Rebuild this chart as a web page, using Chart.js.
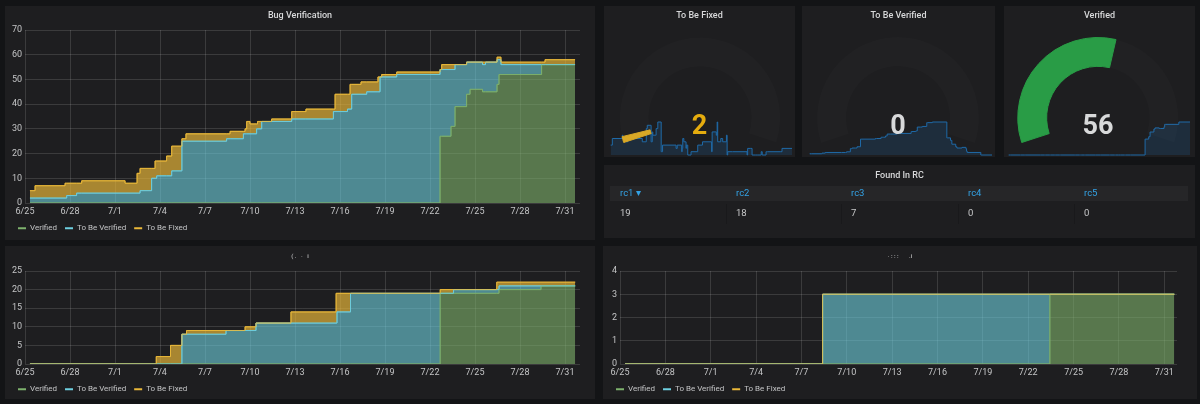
<!DOCTYPE html>
<html><head><meta charset="utf-8">
<style>
html,body{margin:0;padding:0;width:1200px;height:404px;overflow:hidden;background:#131416;font-family:Roboto,sans-serif}
.p{position:absolute;background:#1e1e20}
canvas{position:absolute;display:block}
.t{position:absolute;text-align:center;color:#d8d9da;font:500 9px Roboto,sans-serif;line-height:12px;white-space:pre}
.v{position:absolute;width:80px;text-align:center;font:700 27px Roboto,sans-serif;line-height:30px}
.c{position:absolute;font:400 9.5px Roboto,sans-serif;line-height:12px;white-space:nowrap}
</style>
<script src="https://cdn.jsdelivr.net/npm/chart.js@4/dist/chart.umd.js"></script>
</head><body>
<script>
const dateLabels=['6/25','6/28','7/1','7/4','7/7','7/10','7/13','7/16','7/19','7/22','7/25','7/28','7/31'];
const seriesNames=['Verified','To Be Verified','To Be Fixed'];

const bugDays=[0.33,0.67,2.67,2.78,3.44,3.78,6.67,7.47,7.67,8.44,8.67,8.78,9.44,9.78,10.46,10.73,13.44,13.67,14.56,14.67,14.78,15,15.44,15.5,15.78,16.44,17.78,18.73,20.56,20.67,21.5,21.67,21.78,22.4,22.78,23.53,23.67,23.78,24.78,27.67,27.78,28.4,28.67,29.44,29.67,30.5,30.7,31.47,31.6,31.73,34.44,34.67,36.67];
const bugVerified=[0,0,0,0,0,0,0,0,0,0,0,0,0,0,0,0,0,0,0,0,0,0,0,0,0,0,0,0,0,0,0,0,0,0,0,0,0,0,0,27,27,31,39,44,46,45,45,48,52,52,56,56,56];
const bugToVerify=[2,2,2,3,4,4,4,4,5,10,10,11,11,13,25,25,26,26,28,28,28,28,30,30,33,33,34,34,37,37,38,38,44,44,45,45,51,51,52,27,27,23,17,13,11,11,12,10,6,4,0,0,0];
const bugToFix=[3,5,6,5,4,5,4,8,9,4,7,6,8,10,1,3,2,3,1,2,5,4,2,3,0,1,3,4,1,7,6,10,4,5,4,6,0,1,1,0,2,2,0,0,0,1,0,1,1,1,1,2,2];

const midDays=[0.33,8.75,9.7,10.46,10.77,13.4,14.67,15.4,17.73,20.74,20.8,21.7,27.68,28.57,31.45,31.6,34.4,36.68];
const midVerified=[0,0,0,0,0,0,0,0,0,0,0,0,19,19,19,20,21,21];
const midToVerify=[0,0,0,8,8,9,9,11,11,11,14,19,0,1,1,1,0,0];
const midToFix=[0,2,5,0,1,0,1,0,3,8,5,0,1,0,2,1,1,1];

const rightDays=[0.33,13.4,28.43,36.66];
const rightVerified=[0,0,3,3];
const rightToVerify=[0,3,0,0];
const rightToFix=[0,0,0,0];

const gaugeTitles=['To Be Fixed','To Be Verified','Verified'];
const gaugeValues=[2,0,56];
const gaugeMax=100;
const rcNames=['rc1','rc2','rc3','rc4','rc5'];
const rcCounts=[19,18,7,0,0];

const lineColors=['rgba(126,178,109,.8)','rgba(110,208,224,.8)','rgba(234,184,57,.85)'];
const legendColors=['#7eb26d','#6ed0e0','#eab839'];
const fillColors=['rgba(126,178,109,.6)','rgba(110,208,224,.6)','rgba(234,184,57,.68)'];
const gaugeText=['#e5ac0e','#d8d9da','#d8d9da'];
const gaugeArc=['#d9a826','#d8d9da','#299c46'];

function el(cls,css,txt,parent){const d=document.createElement('div');d.className=cls;d.style.cssText=css;if(txt!==undefined)d.textContent=txt;(parent||document.body).appendChild(d);return d}
function canvas(l,t,w,h){const c=document.createElement('canvas');c.style.cssText=`left:${l}px;top:${t}px;width:${w}px;height:${h}px`;c.width=w;c.height=h;document.body.appendChild(c);return c}

const relayer={id:'relayer',afterDatasetsDraw(ch){
  const ctx=ch.ctx;ctx.save();
  ctx.beginPath();ctx.rect(ch.chartArea.left,ch.chartArea.top,ch.chartArea.width,ch.chartArea.height);ctx.clip();
  for(let i=0;i<3;i++)ch.getDatasetMeta(i).dataset.draw(ctx,ch.chartArea);
  ctx.restore();
}};
function legendShift(dx,top){return {id:'legendShift',afterLayout(ch){ch.legend.left+=dx;ch.legend.right+=dx;ch.legend.top=top;ch.legend.bottom=top+ch.legend.height}}}

function stackChart(box,area,days,vals,yMax,yStep,xMax,legendY){
  el('p',`left:${box.l}px;top:${box.t}px;width:${box.w}px;height:${box.h}px`);
  const extra=5;
  const c=canvas(box.l,box.t,box.w,box.h+extra);
  new Chart(c,{type:'line',
    data:{datasets:seriesNames.map((n,i)=>({label:n,
      data:days.map((d,k)=>({x:d,y:vals[i][k]})),
      borderColor:lineColors[i],backgroundColor:fillColors[i],borderWidth:1,pointRadius:0,stepped:true,
      fill:i===0?'origin':'-1'}))},
    plugins:[relayer,legendShift(5,legendY-box.t-12.8)],
    options:{responsive:false,animation:false,devicePixelRatio:1,
      layout:{padding:{left:0,top:area.t-box.t,right:box.l+box.w-area.r,bottom:0}},
      plugins:{title:{display:false},tooltip:{enabled:false},
        legend:{display:true,position:'bottom',align:'start',
          labels:{boxWidth:8,boxHeight:2,padding:8,color:'#c4c5c6',font:{family:'Roboto',size:8},
            generateLabels:ch=>seriesNames.map((n,i)=>({text:n,fillStyle:legendColors[i],strokeStyle:legendColors[i],lineWidth:0,datasetIndex:i,fontColor:'#c4c5c6'}))}}},
      scales:{
        x:{type:'linear',min:0,max:xMax,border:{display:false},
          grid:{color:'rgba(255,255,255,.13)',lineWidth:1,drawTicks:false},
          afterFit(s){s.height=box.t+box.h+extra-area.b-s.chart.legend.height},
          ticks:{stepSize:3,includeBounds:false,autoSkip:false,maxRotation:0,padding:3,color:'#c4c5c6',font:{family:'Roboto',size:9},
            callback:v=>dateLabels[Math.round(v/3)]}},
        y:{stacked:true,min:0,max:yMax,border:{display:false},
          grid:{color:'rgba(255,255,255,.13)',lineWidth:1,drawTicks:false},
          afterFit(s){s.width=area.l-box.l},
          ticks:{stepSize:yStep,padding:3,color:'#c4c5c6',font:{family:'Roboto',size:9}}}
      }}});
}

stackChart({l:5,t:6,w:590,h:234},{l:25,r:580,t:30,b:203},bugDays,[bugVerified,bugToVerify,bugToFix],70,10,37,229);
el('t','left:5px;width:590px;top:9px','Bug Verification');

stackChart({l:5,t:246,w:590,h:153},{l:25,r:580,t:271,b:364},midDays,[midVerified,midToVerify,midToFix],25,5,37,390);
el('t','left:5px;width:590px;top:250px;opacity:.85;font-size:6px','( .   ·   i');

stackChart({l:603,t:246,w:594,h:153},{l:620,r:1177,t:271,b:364},rightDays,[rightVerified,rightToVerify,rightToFix],4,1,36.84,390);
el('t','left:603px;width:594px;top:250px;opacity:.85;font-size:6px','· : : :       .i');

const gaugeBoxes=[{l:604,w:191,cx:699.5,sl:609,sr:792},{l:802,w:193,cx:898,sl:808,sr:992},{l:1004,w:191,cx:1098,sl:1007,sr:1190}];
const sparkSeries=[bugToFix,bugToVerify,bugVerified];
gaugeBoxes.forEach((g,i)=>{
  el('p',`left:${g.l}px;top:6px;width:${g.w}px;height:151px`);
  const sc=canvas(g.sl,121,g.sr-g.sl,35);
  new Chart(sc,{type:'line',
    data:{datasets:[{data:bugDays.map((d,k)=>({x:d,y:sparkSeries[i][k]})),borderColor:'#1f6aa8',backgroundColor:'rgba(31,118,189,.18)',borderWidth:1,pointRadius:0,stepped:true,fill:'origin',clip:false}]},
    options:{responsive:false,animation:false,devicePixelRatio:1,layout:{padding:{top:1,bottom:1}},
      plugins:{legend:{display:false},tooltip:{enabled:false}},
      scales:{x:{type:'linear',display:false,min:0,max:36.67},y:{display:false,min:0,max:Math.max(...sparkSeries[i])}}}});
  const gc=canvas(g.cx-81,37,162,106);
  new Chart(gc,{type:'doughnut',
    data:{labels:[gaugeTitles[i],''],datasets:[{data:[gaugeValues[i],gaugeMax-gaugeValues[i]],backgroundColor:[gaugeArc[i],'rgba(255,255,255,.014)'],borderColor:[gaugeArc[i],'rgba(0,0,0,0)'],borderWidth:[gaugeValues[i]>0?1:0,0]}]},
    options:{responsive:false,animation:false,devicePixelRatio:1,rotation:-108,circumference:216,cutout:'64%',
      plugins:{legend:{display:false},tooltip:{enabled:false}}}});
  el('t',`left:${g.l}px;width:${g.w}px;top:9px`,gaugeTitles[i]);
  el('v',`left:${g.cx-40}px;top:110px;color:${gaugeText[i]}`,String(gaugeValues[i]));
});

el('p','left:604px;top:165px;width:591px;height:73px');
el('t','left:604px;width:591px;top:169px','Found In RC');
el('p','left:610px;top:186px;width:578px;height:15px;background:#262628');
const colX=[620,736,851,968,1084];
rcNames.forEach((n,i)=>{
  el('c',`left:${colX[i]}px;top:187px;color:#33a2e5`,n+(i===0?' ▾':''));
  el('c',`left:${colX[i]}px;top:207px;color:#c8c9ca`,String(rcCounts[i]));
  if(i>0)el('p',`left:${colX[i]-10}px;top:204px;width:1px;height:20px;background:#19191b`);
});
</script>
</body></html>
